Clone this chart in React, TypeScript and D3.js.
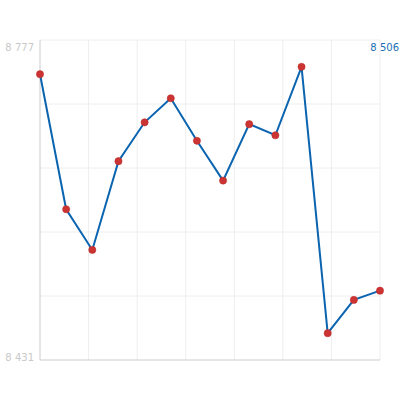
import React from "react";
import * as d3 from "d3";

const values: number[] = [8740, 8594, 8550, 8646, 8688, 8714, 8668, 8625, 8686, 8674, 8748, 8460, 8496, 8506];
const yMin = 8431;
const yMax = 8777;
const minLabel = "8 431";
const maxLabel = "8 777";
const lastLabel = "8 506";

const W = 420, H = 400;
const L = 40, R = 380, T = 40, B = 360;
const FONT = "DejaVu Sans, Verdana, sans-serif";

export default function App() {
  const x = d3.scaleLinear().domain([0, values.length - 1]).range([L, R]);
  const y = d3.scaleLinear().domain([yMin, yMax]).range([B, T]);
  const line = d3.line<number>().x((_, i) => x(i)).y((d) => y(d));
  const vGrid = d3.range(1, 8).map((i) => L + (i * (R - L)) / 7);
  const hGrid = d3.range(0, 5).map((i) => T + (i * (B - T)) / 5);
  return (
    <svg width={W} height={H} style={{ position: "absolute", left: 0, top: 0 }}>
      <rect width={W} height={H} fill="#fff" />
      {vGrid.map((gx, i) => (
        <line key={"v" + i} x1={gx} x2={gx} y1={T} y2={B} stroke="#eeeeee" strokeWidth={1} />
      ))}
      {hGrid.map((gy, i) => (
        <line key={"h" + i} x1={L} x2={R} y1={gy} y2={gy} stroke="#eeeeee" strokeWidth={1} />
      ))}
      <line x1={L} x2={L} y1={T} y2={B} stroke="#cccccc" strokeWidth={1} />
      <line x1={L} x2={R} y1={B} y2={B} stroke="#cccccc" strokeWidth={1} />
      <path d={line(values) || ""} fill="none" stroke="#0a64b0" strokeWidth={2} />
      {values.map((v, i) => (
        <circle key={i} cx={x(i)} cy={y(v)} r={3.6} fill="#cc3333" stroke="#b82828" strokeWidth={0.5} />
      ))}
      <text x={34} y={51} textAnchor="end" fontFamily={FONT} fontSize={10} fill="#c8c8c8">
        {maxLabel}
      </text>
      <text x={34} y={361} textAnchor="end" fontFamily={FONT} fontSize={10} fill="#c8c8c8">
        {minLabel}
      </text>
      <text x={399} y={51} textAnchor="end" fontFamily={FONT} fontSize={10} fill="#1a6fb5">
        {lastLabel}
      </text>
    </svg>
  );
}
